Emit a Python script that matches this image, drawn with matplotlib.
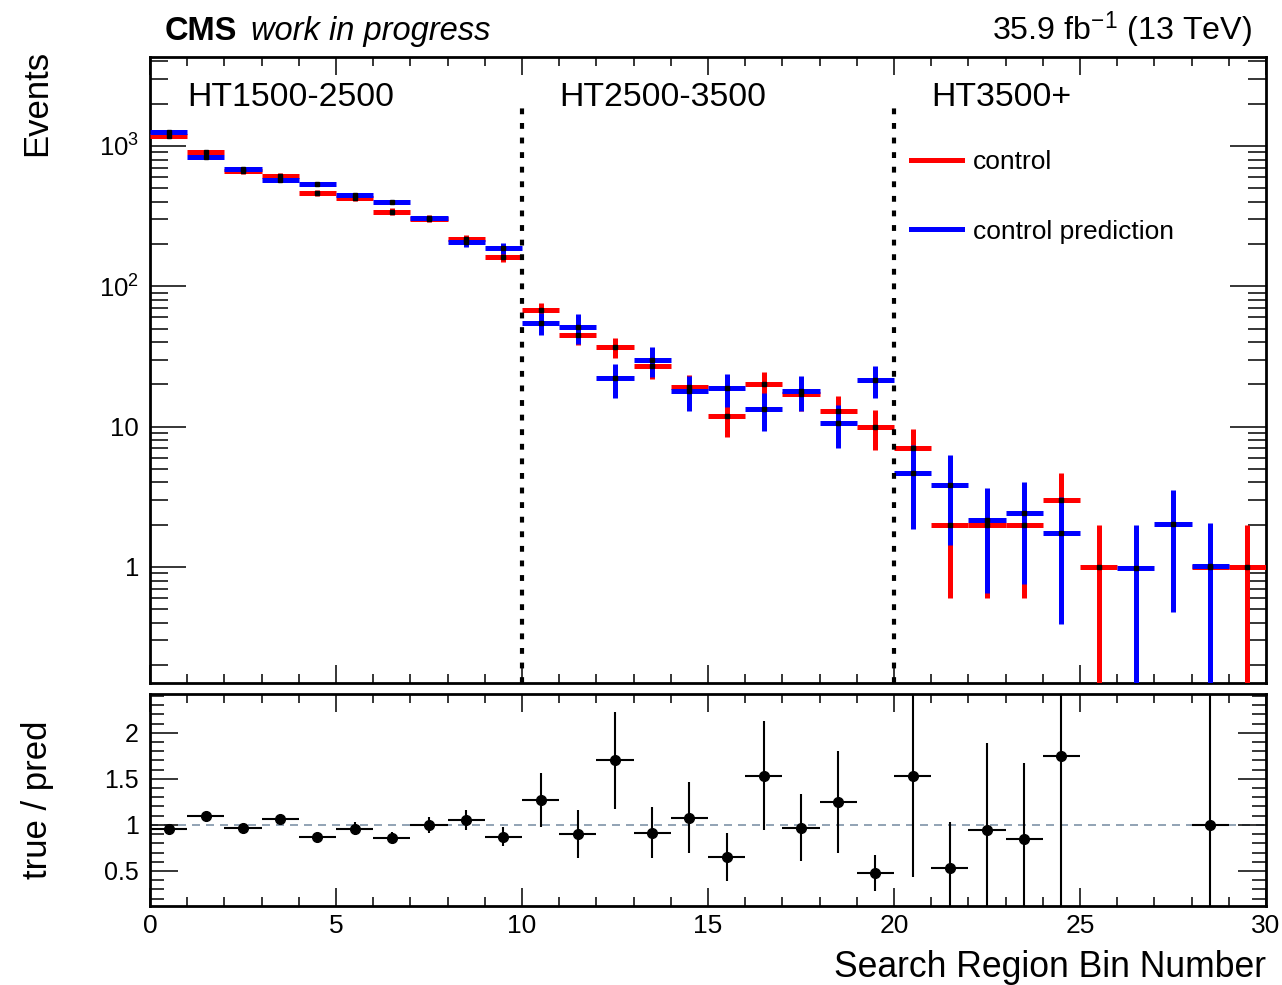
import numpy as np
import matplotlib
matplotlib.use('Agg')
import matplotlib.pyplot as plt
from matplotlib.lines import Line2D
from matplotlib.ticker import FixedLocator, MultipleLocator, LogLocator, FuncFormatter, NullFormatter

plt.rcParams['font.family'] = ['Liberation Sans', 'DejaVu Sans']
plt.rcParams['mathtext.fontset'] = 'custom'
plt.rcParams['mathtext.rm'] = 'Liberation Sans'
plt.rcParams['mathtext.it'] = 'Liberation Sans:italic'
plt.rcParams['mathtext.bf'] = 'Liberation Sans:bold'

# search region bins
bin_number = np.arange(30)
bin_center = bin_number + 0.5

# control (true) counts and errors
control = np.array([1180, 912, 658, 612, 461, 424, 341, 303, 217, 161,
                    68, 45, 37, 27, 19, 12, 20, 17, 13, 10,
                    7, 2, 2, 2, 3, 1, 0, 0, 1, 1], dtype=float)
control_err = np.array([34.4, 30.2, 25.7, 24.7, 21.5, 20.6, 18.5, 17.4, 14.7, 12.7,
                        8.2, 6.7, 6.1, 5.2, 4.4, 3.5, 4.5, 4.1, 3.6, 3.2,
                        2.6, 1.4, 1.4, 1.4, 1.7, 1.0, 0, 0, 1.0, 1.0])

# control prediction and errors
prediction = np.array([1260, 840, 687, 573, 534, 448, 397, 305, 206, 187,
                       54.7, 51.1, 22.1, 29.7, 17.9, 18.8, 13.3, 17.9, 10.6, 21.4,
                       4.65, 3.84, 2.15, 2.41, 1.76, 0, 0.98, 2.01, 1.01, 0])
prediction_err = np.array([25, 22, 20, 18, 15, 15, 13, 12, 17, 18,
                           10, 12.5, 6, 7.3, 5, 5, 4, 5, 3.6, 5.5,
                           2.8, 2.4, 1.5, 1.65, 1.37, 0, 1.0, 1.53, 1.05, 0])

# ratio true / pred
ratio = np.array([0.957, 1.094, 0.964, 1.062, 0.866, 0.957, 0.859, 1.0, 1.054, 0.873,
                  1.268, 0.899, 1.699, 0.917, 1.080, 0.652, 1.536, 0.971, 1.247, 0.478,
                  1.536, 0.529, 0.946, 0.844, 1.747, np.nan, np.nan, np.nan, 0.996, np.nan])
ratio_err = np.array([0.03, 0.03, 0.03, 0.05, 0.03, 0.07, 0.06, 0.09, 0.11, 0.10,
                      0.29, 0.26, 0.53, 0.28, 0.39, 0.26, 0.59, 0.36, 0.55, 0.195,
                      1.10, 0.50, 0.94, 0.83, 1.90, np.nan, np.nan, np.nan, 1.50, np.nan])

region_edges = [10, 20]
region_names = ['HT1500-2500', 'HT2500-3500', 'HT3500+']
region_starts = [1.0, 11.0, 21.0]

fig = plt.figure(figsize=(12.82, 9.85), dpi=100)
ax1 = fig.add_axes([0.1170, 0.3066, 0.8705, 0.6355])
ax2 = fig.add_axes([0.1170, 0.0802, 0.8705, 0.2152])

ymin, ymax = 0.149, 4300

# upper panel
for vals, errs, col in [(control, control_err, '#ff0000'), (prediction, prediction_err, '#0000ff')]:
    m = vals > 0
    ax1.errorbar(bin_center[m], vals[m], xerr=0.5, yerr=errs[m], fmt='none',
                 ecolor=col, elinewidth=3.6, capsize=0, zorder=3)
    ax1.plot(bin_center[m], vals[m], 's', color='black', ms=2.3, zorder=4)

ax1.vlines(region_edges, ymin, 1900, colors='black', linestyles=(0, (1.4, 2.1)), lw=3, zorder=5)
for name, xs in zip(region_names, region_starts):
    ax1.text(xs, 2200, name, fontsize=24.4, va='center', ha='left')

ax1.set_yscale('log')
ax1.set_xlim(0, 30)
ax1.set_ylim(ymin, ymax)
ax1.yaxis.set_major_locator(FixedLocator([1, 10, 100, 1000]))
ax1.yaxis.set_major_formatter(FuncFormatter(
    lambda v, p: {1: '1', 10: '10', 100: '$10^{2}$', 1000: '$10^{3}$'}.get(int(round(v)), '')))
ax1.yaxis.set_minor_locator(LogLocator(base=10, subs=np.arange(2, 10), numticks=20))
ax1.yaxis.set_minor_formatter(NullFormatter())
ax1.xaxis.set_major_locator(MultipleLocator(5))
ax1.xaxis.set_minor_locator(MultipleLocator(1))
ax1.tick_params(which='both', direction='in', top=True, right=True, width=1.1, labelbottom=False)
ax1.tick_params(axis='y', which='major', length=26, labelsize=18.5, pad=8)
ax1.tick_params(axis='y', which='minor', length=13)
ax1.tick_params(axis='x', which='major', length=13)
ax1.tick_params(axis='x', which='minor', length=6.5)

handles = [Line2D([], [], color='#ff0000', lw=3.6), Line2D([], [], color='#0000ff', lw=3.6)]
ax1.legend(handles, ['control', 'control prediction'], loc='upper left',
           bbox_to_anchor=(0.682, 0.851), frameon=False, fontsize=19,
           handlelength=1.93, handletextpad=0.42, labelspacing=1.72, borderpad=0, borderaxespad=0)

# ratio panel
ax2.axhline(1, color='#7f93a8', ls=(0, (4.8, 3.6)), lw=1.2, zorder=1)
m = ~np.isnan(ratio)
ax2.errorbar(bin_center[m], ratio[m], xerr=0.5, yerr=ratio_err[m], fmt='o', color='black',
             ms=7, elinewidth=1.5, capsize=0, zorder=3)
ax2.set_xlim(0, 30)
ax2.set_ylim(0.12, 2.42)
ax2.xaxis.set_major_locator(MultipleLocator(5))
ax2.xaxis.set_minor_locator(MultipleLocator(1))
ax2.yaxis.set_major_locator(FixedLocator([0.5, 1, 1.5, 2]))
ax2.yaxis.set_major_formatter(FuncFormatter(lambda v, p: ('%g' % v)))
ax2.yaxis.set_minor_locator(MultipleLocator(0.1))
ax2.tick_params(which='both', direction='in', top=True, right=True, width=1.1)
ax2.tick_params(axis='y', which='major', length=20, labelsize=18, pad=8)
ax2.tick_params(axis='y', which='minor', length=10)
ax2.tick_params(axis='x', which='major', length=13, labelsize=19, pad=6)
ax2.tick_params(axis='x', which='minor', length=6.5)

for ax in (ax1, ax2):
    for s in ax.spines.values():
        s.set_linewidth(2.0)

# labels and header
fig.text(0.0289, 0.949, 'Events', rotation=90, fontsize=25, ha='center', va='top')
fig.text(0.0289, 0.188, 'true / pred', rotation=90, fontsize=25, ha='center', va='center')
fig.text(0.9875, 0.0175, 'Search Region Bin Number', fontsize=25.6, ha='right', va='center')
fig.text(0.1287, 0.959, 'CMS', fontsize=23.5, fontweight='bold', ha='left', va='baseline')
fig.text(0.1958, 0.959, 'work in progress', fontsize=23.5, style='italic', ha='left', va='baseline')
fig.text(0.9766, 0.959, '35.9 fb$^{-1}$ (13 TeV)', fontsize=23.2, ha='right', va='baseline')

fig.savefig('out.png', dpi=100)
